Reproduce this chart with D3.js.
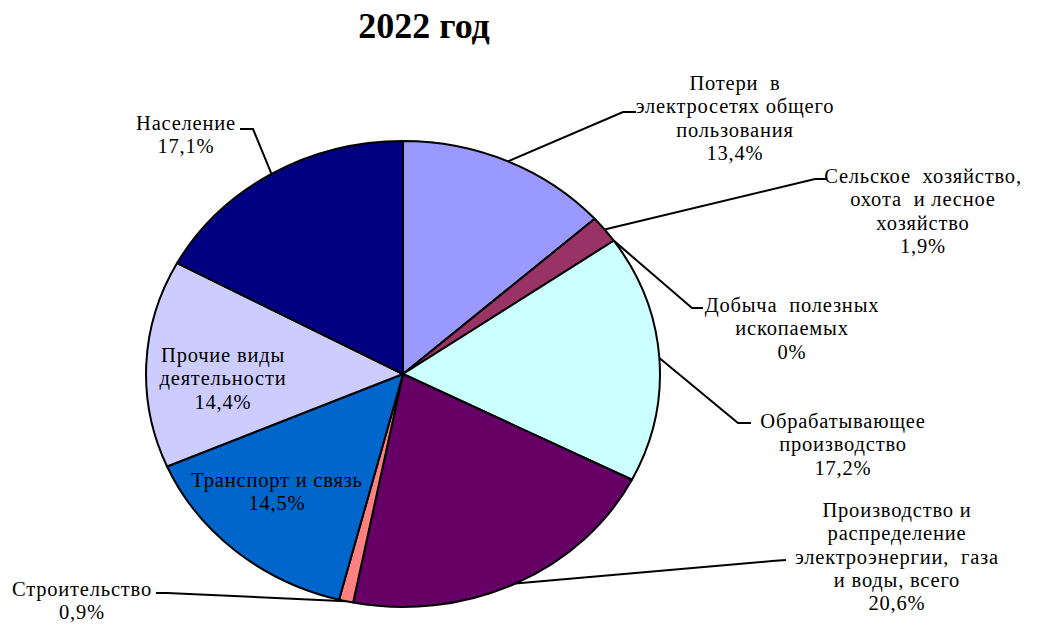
<!DOCTYPE html>
<html>
<head>
<meta charset="utf-8">
<script src="https://cdn.jsdelivr.net/npm/d3@7"></script>
<style>
  html, body { margin: 0; padding: 0; background: #fff; }
  svg { display: block; }
  text { font-family: "Liberation Serif", "Times New Roman", serif; fill: #000; }
</style>
</head>
<body>
<svg id="chart" width="1062" height="626"></svg>
<script>
// Structure of electricity consumption, 2022 (shares, %)
const categories = [
  "Потери в электросетях общего пользования",
  "Сельское хозяйство, охота и лесное хозяйство",
  "Добыча полезных ископаемых",
  "Обрабатывающее производство",
  "Производство и распределение электроэнергии, газа и воды, всего",
  "Строительство",
  "Транспорт и связь",
  "Прочие виды деятельности",
  "Население"
];
const shares = [13.4, 1.9, 0, 17.2, 20.6, 0.9, 14.5, 14.4, 17.1];

// Label text, broken into lines
const labelLines = [
  ["Потери  в", "электросетях общего", "пользования"],
  ["Сельское  хозяйство,", "охота  и лесное", "хозяйство"],
  ["Добыча  полезных", "ископаемых"],
  ["Обрабатывающее", "производство"],
  ["Производство и", "распределение", "электроэнергии,  газа", "и воды, всего"],
  ["Строительство"],
  ["Транспорт и связь"],
  ["Прочие виды", "деятельности"],
  ["Население"]
];

const title = "2022 год";

// Slice fills
const colors = ["#9999FF", "#993366", "#FFFFCC", "#CCFFFF", "#660066",
                "#FF8080", "#0066CC", "#CCCCFF", "#000080"];

// Label placement: text centre x, first baseline y; leader elbow and end (null = inside label)
const labelLayout = [
  { x: 735, y: 90,  elbow: [623, 112], end: [636, 112] },
  { x: 923, y: 183, elbow: [815, 179], end: [827, 179] },
  { x: 792, y: 312, elbow: [692, 308], end: [703, 308] },
  { x: 843, y: 428, elbow: [738, 423], end: [751, 423] },
  { x: 897, y: 517, elbow: [772, 561], end: [786, 560] },
  { x: 82,  y: 596, elbow: [167, 593], end: [156, 593] },
  { x: 277, y: 487, elbow: null, end: null },
  { x: 223, y: 362, elbow: null, end: null },
  { x: 186, y: 130, elbow: [253, 129], end: [240, 129] }
];

const W = 1062, H = 626;
const cx = 403, cy = 374, rx = 257, ry = 233;
const lineH = 23.3;

const svg = d3.select("#chart");

svg.append("text")
  .attr("x", 424).attr("y", 38)
  .attr("text-anchor", "middle")
  .style("font-size", "36px")
  .style("font-weight", "bold")
  .text(title);

const data = categories.map((c, i) => ({ name: c, value: shares[i], i }));

const pie = d3.pie().sort(null).value(d => d.value).startAngle(0).endAngle(2 * Math.PI);
const arcs = pie(data);

// Unit-radius arcs, stretched into an ellipse
const arc = d3.arc().innerRadius(0).outerRadius(1);
const rim = d3.arc().innerRadius(1).outerRadius(1);

const g = svg.append("g")
  .attr("transform", `translate(${cx},${cy}) scale(${rx},${ry})`);

g.selectAll("path.slice")
  .data(arcs.filter(a => a.data.value > 0))
  .join("path")
  .attr("class", "slice")
  .attr("d", arc)
  .attr("fill", d => colors[d.data.i])
  .attr("stroke", "#000")
  .attr("stroke-width", 2)
  .attr("stroke-linejoin", "round")
  .attr("vector-effect", "non-scaling-stroke");

const fmt = d3.formatLocale({ decimal: ",", thousands: " ", grouping: [3], currency: ["", ""] }).format(".1~f");

// Leader lines from the slice rim (mid-angle) to the label
const leaders = svg.append("g");
arcs.forEach(a => {
  const L = labelLayout[a.data.i];
  if (!L.elbow) return;
  const [ux, uy] = rim.centroid(a);
  const p0 = [cx + ux * rx, cy + uy * ry];
  leaders.append("path")
    .attr("d", d3.line()([p0, L.elbow, L.end]))
    .attr("fill", "none")
    .attr("stroke", "#000")
    .attr("stroke-width", 2);
});

// Labels
const labels = svg.append("g");
arcs.forEach(a => {
  const L = labelLayout[a.data.i];
  const lines = labelLines[a.data.i].concat([fmt(a.data.value) + "%"]);
  const t = labels.append("text")
    .attr("text-anchor", "middle")
    .style("font-size", "20.5px")
    .style("letter-spacing", "0.8px")
    .style("white-space", "pre");
  lines.forEach((s, k) => {
    t.append("tspan")
      .attr("x", L.x)
      .attr("y", L.y + k * lineH)
      .text(s);
  });
});
</script>
</body>
</html>
